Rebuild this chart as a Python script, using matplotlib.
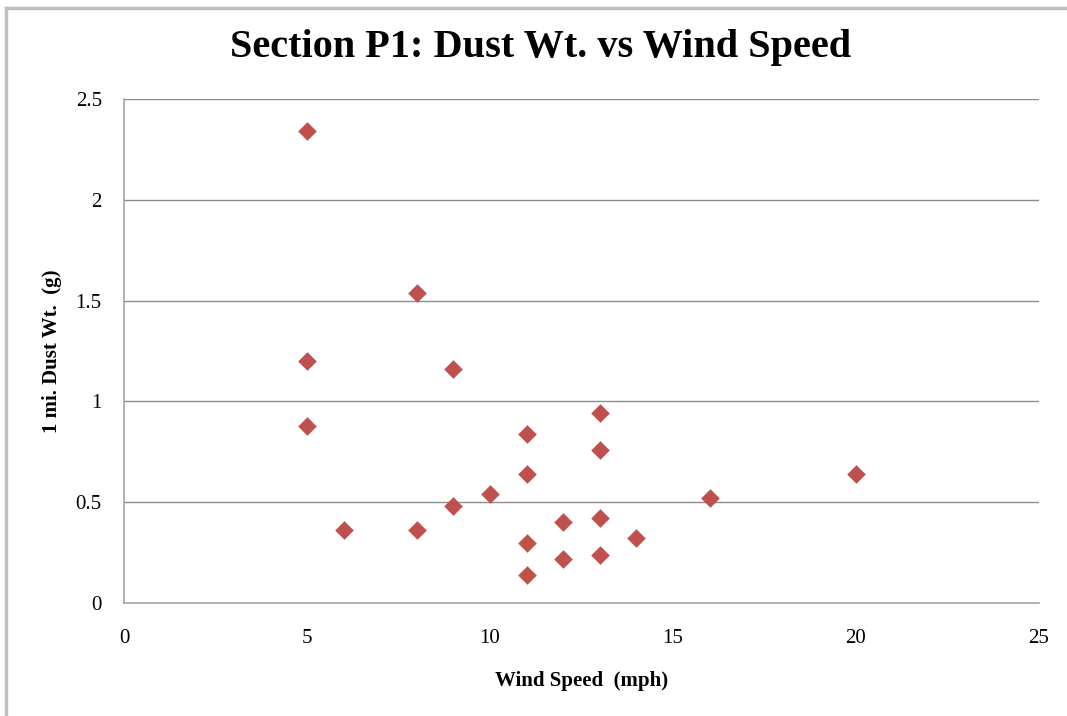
import matplotlib
matplotlib.use("Agg")
import matplotlib.pyplot as plt
from matplotlib.lines import Line2D

wind_speed = [5, 5, 5, 6, 8, 8, 9, 9, 10, 11, 11, 11, 11, 12, 12, 13, 13, 13, 13, 14, 16, 20]
dust_wt = [2.34, 1.20, 0.88, 0.36, 1.54, 0.36, 1.16, 0.48, 0.54, 0.84, 0.64, 0.30, 0.14,
           0.40, 0.22, 0.94, 0.76, 0.42, 0.24, 0.32, 0.52, 0.64]
x_ticks = [0, 5, 10, 15, 20, 25]
y_ticks = [0, 0.5, 1, 1.5, 2, 2.5]
y_tick_labels = ["0", "0.5", "1", "1.5", "2", "2.5"]

W, H = 1067, 716
fig = plt.figure(figsize=(W / 100, H / 100), dpi=100)
fig.patch.set_facecolor("white")
serif = "Liberation Serif"

ax = fig.add_axes([124 / W, 1 - 603 / H, (1039 - 124) / W, (603 - 99) / H])
ax.scatter(wind_speed, dust_wt, marker="D", s=90, color="#C0504D", linewidths=0, zorder=3)
ax.set_xlim(0, 25)
ax.set_ylim(0, 2.5)
ax.set_xticks(x_ticks)
ax.set_yticks(y_ticks)
ax.set_yticklabels(y_tick_labels)
ax.grid(axis="y", color="#8C8C8C", linewidth=1.0)
ax.set_axisbelow(True)
for s in ["top", "right"]:
    ax.spines[s].set_visible(False)
for s in ["left", "bottom"]:
    ax.spines[s].set_color("#A6A6A6")
    ax.spines[s].set_linewidth(1.2)
ax.tick_params(length=0, labelsize=15)
ax.tick_params(axis="x", pad=19)
ax.tick_params(axis="y", pad=16)
for lab in ax.get_xticklabels() + ax.get_yticklabels():
    lab.set_fontfamily(serif)

ax.set_xlabel("Wind Speed  (mph)", fontfamily=serif, fontweight="bold", fontsize=15, labelpad=16)
ax.set_ylabel("1 mi. Dust Wt.  (g)", fontfamily=serif, fontweight="bold", fontsize=15, labelpad=10)

fig.text(541 / W, 1 - 47 / H, "Section P1: Dust Wt. vs Wind Speed", ha="center", va="center",
         fontfamily=serif, fontweight="bold", fontsize=29)

# outer chart frame
fig.add_artist(Line2D([6 / W, 6 / W], [0, 1 - 8 / H], color="#BFBFBF", linewidth=2.5, transform=fig.transFigure))
fig.add_artist(Line2D([6 / W, 1], [1 - 8 / H, 1 - 8 / H], color="#BFBFBF", linewidth=2.5, transform=fig.transFigure))

fig.savefig("out.png", dpi=100)
